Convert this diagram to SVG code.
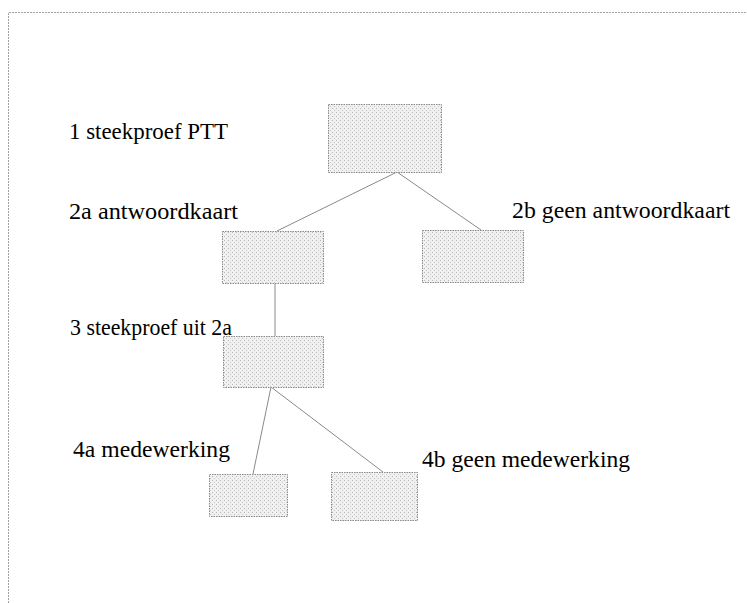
<svg xmlns="http://www.w3.org/2000/svg" width="747" height="603" viewBox="0 0 747 603">
<defs>
<pattern id="stip" width="4" height="4" patternUnits="userSpaceOnUse">
<rect width="4" height="4" fill="#f0f0f0"/>
<rect x="0" y="0" width="1" height="1" fill="#b8b8b8"/>
<rect x="2" y="2" width="1" height="1" fill="#c8c8c8"/>
</pattern>
</defs>
<style>
.box{fill:url(#stip);stroke:#8a8a8a;stroke-width:1;stroke-dasharray:1.5 1}
.lbl{font-family:"Liberation Serif","Times New Roman","DejaVu Serif",serif;font-size:23px;fill:#000}
.edge{stroke:#8a8a8a;stroke-width:1;fill:none}
.frame{stroke:#a0a0a0;stroke-width:1;fill:none;stroke-dasharray:2 1}
</style>
<path class="frame" d="M8.5,603 V12.5 H747"/>
<g id="connectors">
<line class="edge" x1="397" y1="172" x2="277" y2="231"/>
<line class="edge" x1="397" y1="172" x2="481" y2="230"/>
<line class="edge" x1="275" y1="283" x2="275" y2="336"/>
<line class="edge" x1="271" y1="387" x2="253" y2="474"/>
<line class="edge" x1="271" y1="387" x2="383" y2="472"/>
</g>
<g id="n1"><rect class="box" x="328.5" y="104.5" width="113" height="68"/><text class="lbl" x="69" y="139" textLength="159" lengthAdjust="spacingAndGlyphs">1 steekproef PTT</text></g>
<g id="n2a"><rect class="box" x="222.5" y="231.5" width="101" height="52"/><text class="lbl" x="69" y="219" textLength="169" lengthAdjust="spacingAndGlyphs">2a antwoordkaart</text></g>
<g id="n2b"><rect class="box" x="422.5" y="230.5" width="101" height="52"/><text class="lbl" x="512" y="218" textLength="218" lengthAdjust="spacingAndGlyphs">2b geen antwoordkaart</text></g>
<g id="n3"><rect class="box" x="223.5" y="336.5" width="100" height="51"/><text class="lbl" x="70" y="335" textLength="162" lengthAdjust="spacingAndGlyphs">3 steekproef uit 2a</text></g>
<g id="n4a"><rect class="box" x="209.5" y="474.5" width="78" height="42"/><text class="lbl" x="73" y="457" textLength="157" lengthAdjust="spacingAndGlyphs">4a medewerking</text></g>
<g id="n4b"><rect class="box" x="331.5" y="472.5" width="86" height="48"/><text class="lbl" x="422" y="467" textLength="208" lengthAdjust="spacingAndGlyphs">4b geen medewerking</text></g>
</svg>
